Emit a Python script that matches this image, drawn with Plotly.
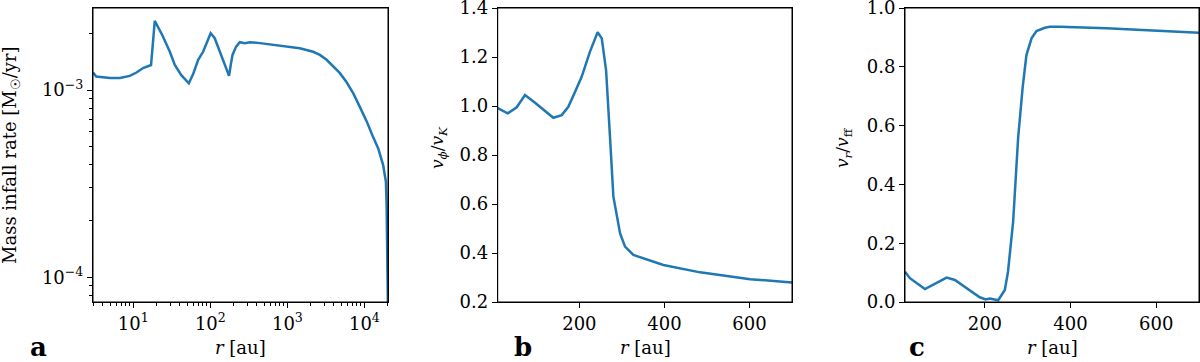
import plotly.graph_objects as go
from plotly.subplots import make_subplots

# panel a: mass infall rate vs radius (log-log)
r_a = [3.0, 3.3, 5.0, 6.7, 9.0, 11.0, 13.4, 16.0, 17.0, 19.0, 24.0, 29.8, 34.6, 42.0,
       52.6, 60.0, 69.5, 80.6, 92.0, 101, 114, 140, 175, 185, 194, 215, 241, 280, 326,
       440, 881, 1450, 2160, 2640, 3230, 3940, 4810, 5870, 7170, 8750, 10700, 12760,
       15100, 17500, 19000, 19400, 19900, 20200]
mdot_a = [1.24e-3, 1.18e-3, 1.16e-3, 1.16e-3, 1.19e-3, 1.24e-3, 1.31e-3, 1.34e-3, 1.36e-3,
          2.34e-3, 1.95e-3, 1.60e-3, 1.36e-3, 1.20e-3, 1.086e-3, 1.22e-3, 1.45e-3, 1.60e-3,
          1.85e-3, 2.01e-3, 1.89e-3, 1.52e-3, 1.19e-3, 1.38e-3, 1.54e-3, 1.70e-3, 1.80e-3,
          1.78e-3, 1.80e-3, 1.78e-3, 1.71e-3, 1.67e-3, 1.60e-3, 1.54e-3, 1.45e-3, 1.34e-3,
          1.23e-3, 1.10e-3, 9.6e-4, 8.1e-4, 6.8e-4, 5.7e-4, 4.88e-4, 3.97e-4, 3.24e-4,
          2.43e-4, 1.07e-4, 7.0e-5]

# panel b: v_phi / v_K
r_b = [8, 31.5, 52.7, 72.2, 95.8, 111.5, 138.8, 158.6, 174, 190, 205.6, 225, 243, 252.7,
       262.8, 272, 280, 295.8, 307.5, 327, 397.6, 484, 601.6, 700]
vphi_b = [0.991, 0.970, 0.995, 1.045, 1.013, 0.991, 0.952, 0.963, 0.997, 1.058, 1.120,
          1.222, 1.301, 1.276, 1.147, 0.875, 0.630, 0.480, 0.426, 0.392, 0.351,
          0.321, 0.293, 0.280]

# panel c: v_r / v_ff
r_c = [13.5, 25, 60, 79.5, 110.7, 130, 157, 188, 202, 211.7, 231, 246.6, 254, 266, 277.6,
       288, 297, 309, 320.5, 340, 351.5, 375, 483.7, 600, 700]
vr_c = [0.103, 0.081, 0.044, 0.060, 0.083, 0.075, 0.047, 0.016, 0.009, 0.012, 0.006, 0.041,
        0.103, 0.273, 0.557, 0.727, 0.840, 0.897, 0.922, 0.933, 0.936, 0.936, 0.931, 0.923,
        0.916]

a_xticks = [10, 100, 1000, 10000]
a_xticktext = ["10<sup>1</sup>", "10<sup>2</sup>", "10<sup>3</sup>", "10<sup>4</sup>"]
a_yticks = [1e-4, 1e-3]
a_yticktext = ["10<sup>\u22124</sup>", "10<sup>\u22123</sup>"]

W, H = 1200, 362
FONT = "DejaVu Serif"
BLUE = "#1f77b4"


def px_x(p):
    return p / W


def px_y(p):
    return 1 - p / H


fig = make_subplots(rows=1, cols=3)
fig.add_trace(go.Scatter(x=r_a, y=mdot_a, mode="lines", line=dict(color=BLUE, width=2.5)), 1, 1)
fig.add_trace(go.Scatter(x=r_b, y=vphi_b, mode="lines", line=dict(color=BLUE, width=2.5)), 1, 2)
fig.add_trace(go.Scatter(x=r_c, y=vr_c, mode="lines", line=dict(color=BLUE, width=2.5)), 1, 3)

axis_style = dict(showline=True, linecolor="black", linewidth=1, mirror=True, showgrid=False,
                  zeroline=False, ticks="outside", ticklen=5, tickwidth=1, tickcolor="black",
                  ticklabeloverflow="allow", automargin=False,
                  tickfont=dict(family=FONT, size=18, color="black"))

minor_x = [m * 10 ** e for e in range(0, 5) for m in range(2, 10)]
minor_y = [m * 10 ** e for e in range(-5, -2) for m in range(2, 10)]

ydom = [px_y(302), px_y(8)]
fig.update_layout(
    width=W, height=H, margin=dict(l=0, r=0, t=0, b=0, autoexpand=False),
    plot_bgcolor="white", paper_bgcolor="white", showlegend=False,
    xaxis=dict(axis_style, type="log", domain=[px_x(93), px_x(388)], range=[0.477, 4.306],
               tickmode="array", tickvals=a_xticks, ticktext=a_xticktext,
               minor=dict(tickmode="array", tickvals=minor_x, ticks="outside", ticklen=3,
                          tickcolor="black", showgrid=False)),
    yaxis=dict(axis_style, type="log", domain=ydom, range=[-4.132, -2.562],
               tickmode="array", tickvals=a_yticks, ticktext=a_yticktext,
               minor=dict(tickmode="array", tickvals=minor_y, ticks="outside", ticklen=3,
                          tickcolor="black", showgrid=False)),
    xaxis2=dict(axis_style, domain=[px_x(497.7), px_x(792)], range=[8, 700],
                tickvals=[200, 400, 600]),
    yaxis2=dict(axis_style, domain=ydom, range=[0.2, 1.4001],
                tickvals=[0.2, 0.4, 0.6, 0.8, 1.0, 1.2, 1.4], tickformat=".1f"),
    xaxis3=dict(axis_style, domain=[px_x(905), px_x(1199)], range=[13.5, 700],
                tickvals=[200, 400, 600]),
    yaxis3=dict(axis_style, domain=ydom, range=[0, 1.0001],
                tickvals=[0, 0.2, 0.4, 0.6, 0.8, 1.0], tickformat=".1f"),
)

# frame around each panel
for ax in ["", "2", "3"]:
    fig.add_shape(type="rect", xref=f"x{ax} domain", yref=f"y{ax} domain", x0=0, x1=1, y0=0, y1=1,
                  line=dict(color="black", width=1), layer="above")

ann_font = dict(family=FONT, size=18, color="black")
annotations = [
    dict(text="Mass infall rate [M<sub>\u2609</sub>/yr]", x=px_x(11), y=px_y(155), textangle=-90,
         font=ann_font),
    dict(text="<i>v</i><sub><i>\u03d5</i></sub>/<i>v</i><sub><i>K</i></sub>", x=px_x(438),
         y=px_y(148), textangle=-90, font=dict(family=FONT, size=17, color="black")),
    dict(text="<i>v</i><sub><i>r</i></sub>/<i>v</i><sub>ff</sub>", x=px_x(843),
         y=px_y(148), textangle=-90, font=dict(family=FONT, size=17, color="black")),
    dict(text="<i>r</i> [au]", x=px_x(240), y=px_y(347), font=ann_font),
    dict(text="<i>r</i> [au]", x=px_x(645), y=px_y(347), font=ann_font),
    dict(text="<i>r</i> [au]", x=px_x(1052), y=px_y(347), font=ann_font),
    dict(text="<b>a</b>", x=px_x(38), y=px_y(347), font=dict(family=FONT, size=26, color="black")),
    dict(text="<b>b</b>", x=px_x(523), y=px_y(347), font=dict(family=FONT, size=26, color="black")),
    dict(text="<b>c</b>", x=px_x(917), y=px_y(347), font=dict(family=FONT, size=26, color="black")),
]
for a in annotations:
    a.update(xref="paper", yref="paper", showarrow=False, xanchor="center", yanchor="middle")
fig.update_layout(annotations=annotations)

# drop the default 8px body margin so the figure fills the window exactly
fig.write_html("out.html", config={"displayModeBar": False},
               post_script="document.body.style.margin='0';")
